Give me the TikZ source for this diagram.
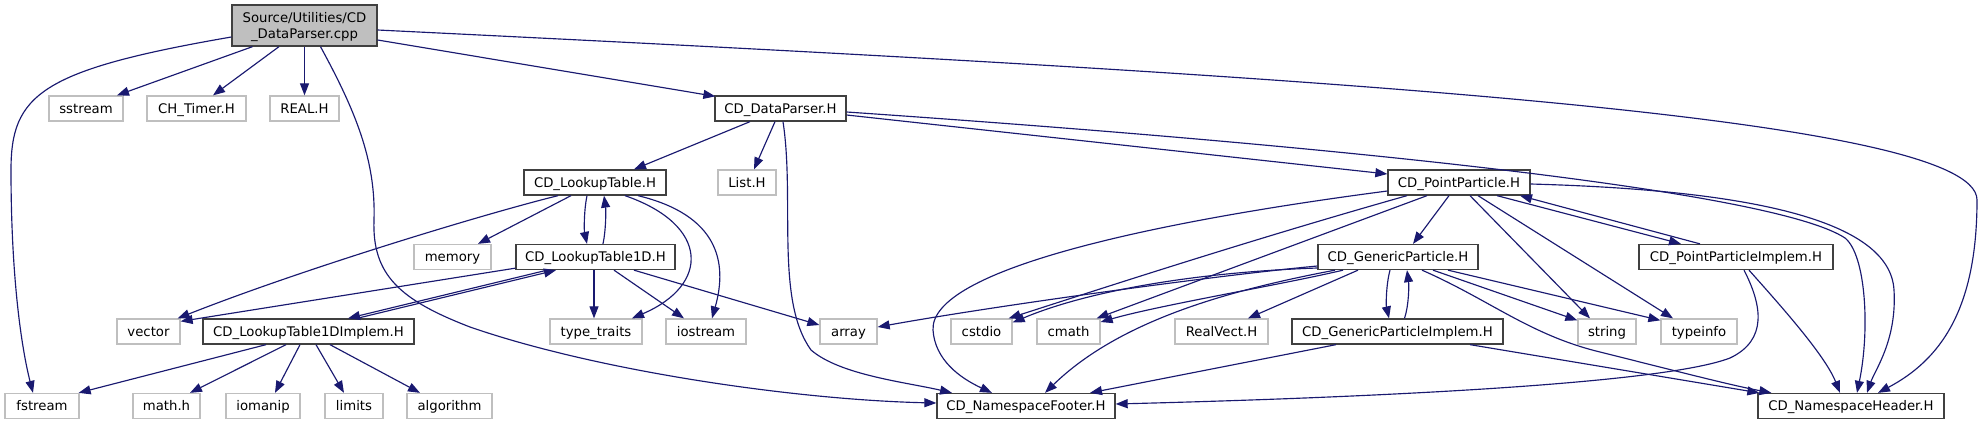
\documentclass[tikz,border=0pt]{standalone}
\usepackage{fontspec}
\setmainfont{DejaVu Sans}
\usetikzlibrary{arrows.meta,calc}
\definecolor{edgecol}{HTML}{191970}
\definecolor{docborder}{HTML}{404040}
\definecolor{sysborder}{HTML}{BFBFBF}
\definecolor{srcfill}{HTML}{BFBFBF}
\begin{document}
\begin{tikzpicture}[x=1bp,y=-1bp,
  font=\fontsize{13.25bp}{15.5bp}\selectfont,
  box/.style={rectangle, inner sep=0pt, minimum height=25bp, line width=1.3bp, fill=white, text=black, text height=9.6bp, text depth=0bp},
  hdr/.style={box, draw=docborder},
  sys/.style={box, draw=sysborder},
  boxw/.style={minimum width=#1bp},
  srcbox/.style={rectangle, inner sep=0pt, fill=srcfill, draw=docborder, line width=1.3bp, minimum width=145bp, minimum height=41bp},
  dep/.style={draw=edgecol, line width=1.15bp, -{Triangle[length=12bp,width=9bp]}}]
\useasboundingbox (0,0) rectangle (1983,425);
\fill[white] (0,0) rectangle (1983,425);

% ---- nodes ----
\node[srcbox] (src) at (304.5,25.5) {\raisebox{-12.5bp}[0pt][0pt]{\begin{tabular}[b]{@{}c@{}}Source/Utilities/CD\\\_DataParser.cpp\end{tabular}}};

\node[sys, boxw=74] (sstream) at (86,108.5) {sstream};
\node[sys, boxw=99] (chtimer) at (196.5,108.5) {CH\_Timer.H};
\node[sys, boxw=69] (real) at (304.5,108.5) {REAL.H};
\node[hdr, boxw=131] (dataparser) at (780.5,108.5) {CD\_DataParser.H};

\node[hdr, boxw=142] (lookup) at (595,182.5) {CD\_LookupTable.H};
\node[sys, boxw=58] (list) at (747,182.5) {List.H};
\node[hdr, boxw=142] (pointp) at (1459,182.5) {CD\_PointParticle.H};

\node[sys, boxw=77] (memory) at (452.5,257) {memory};
\node[hdr, boxw=159] (lookup1d) at (595.5,257) {CD\_LookupTable1D.H};
\node[hdr, boxw=160] (genp) at (1398,257) {CD\_GenericParticle.H};
\node[hdr, boxw=194] (pointimpl) at (1736,257) {CD\_PointParticleImplem.H};

\node[sys, boxw=63] (vector) at (148.5,331.5) {vector};
\node[hdr, boxw=211] (lookup1dimpl) at (308.5,331.5) {CD\_LookupTable1DImplem.H};
\node[sys, boxw=92] (typetraits) at (596,331.5) {type\_traits};
\node[sys, boxw=80] (iostream) at (706,331.5) {iostream};
\node[sys, boxw=57] (array) at (848.5,331.5) {array};
\node[sys, boxw=61] (cstdio) at (981.5,331.5) {cstdio};
\node[sys, boxw=63] (cmath) at (1068.5,331.5) {cmath};
\node[sys, boxw=93] (realvect) at (1221.5,331.5) {RealVect.H};
\node[hdr, boxw=211] (genimpl) at (1397.5,331.5) {CD\_GenericParticleImplem.H};
\node[sys, boxw=58] (string) at (1607,331.5) {string};
\node[sys, boxw=76] (typeinfo) at (1699,331.5) {typeinfo};

\node[sys, boxw=74] (fstream) at (42,406) {fstream};
\node[sys, boxw=67] (mathh) at (166.5,406) {math.h};
\node[sys, boxw=74] (iomanip) at (263,406) {iomanip};
\node[sys, boxw=58] (limits) at (354,406) {limits};
\node[sys, boxw=85] (algorithm) at (449.5,406) {algorithm};
\node[hdr, boxw=178] (nsfooter) at (1026,406) {CD\_NamespaceFooter.H};
\node[hdr, boxw=186] (nsheader) at (1851,406) {CD\_NamespaceHeader.H};

% ---- edges: source file ----
\draw[dep] ($(src.west)+(0,11.5)$) .. controls (40,70) and (11,95) .. (11,170) .. controls (11,280) and (22,350) .. ($(fstream.north)+(-9,0)$);
\draw[dep] ($(src.south)+(-52,0)$) -- ($(sstream.north)+(31,0)$);
\draw[dep] ($(src.south)+(-25.5,0)$) -- ($(chtimer.north)+(16.5,0)$);
\draw[dep] (src.south) -- (real.north);
\draw[dep] ($(src.south)+(16,0)$) .. controls (355,110) and (376,160) .. (374,220) .. controls (372,275) and (400,300) .. (470,327) .. controls (600,372) and (800,400) .. ($(nsfooter.west)+(0,-3)$);
\draw[dep] ($(src.east)+(0,14.5)$) -- ($(dataparser.north west)+(1,1)$);
\draw[dep] ($(src.east)+(0,4.5)$) .. controls (1300,75) and (1977,115) .. (1977,200) .. controls (1977,310) and (1940,360) .. ($(nsheader.north)+(27,0)$);

% ---- CD_DataParser.H ----
\draw[dep] ($(dataparser.south)+(-30.5,0)$) -- ($(lookup.north)+(39,0)$);
\draw[dep] ($(dataparser.south)+(-5.5,0)$) -- ($(list.north)+(7,0)$);
\draw[dep] ($(dataparser.south)+(2.5,0)$) .. controls (795,200) and (775,300) .. (811,350) .. controls (840,375) and (905,382) .. ($(nsfooter.north)+(-74,0)$);
\draw[dep] ($(dataparser.east)+(0,6.5)$) -- ($(pointp.west)+(0,-8.5)$);
\draw[dep] ($(dataparser.east)+(0,3.5)$) .. controls (1400,150) and (1780,195) .. (1845,238) .. controls (1866,255) and (1870,330) .. ($(nsheader.north)+(6,0)$);

% ---- CD_LookupTable.H ----
\draw[dep] ($(lookup.south)+(-37,0)$) .. controls (480,215) and (300,270) .. ($(vector.north east)+(-3,0)$);
\draw[dep] ($(lookup.south)+(-24,0)$) -- ($(memory.north)+(25.5,0)$);
\draw[dep] ($(lookup.south)+(-8,0)$) .. controls (584,210) and (584,230) .. ($(lookup1d.north)+(-8.5,0)$);
\draw[dep] ($(lookup.south)+(30,0)$) .. controls (710,225) and (710,285) .. ($(typetraits.north)+(36,0)$);
\draw[dep] ($(lookup.south)+(43,0)$) .. controls (718,215) and (728,262) .. ($(iostream.north)+(6,0)$);

% ---- CD_LookupTable1D.H ----
\draw[dep] ($(lookup1d.north)+(7.5,0)$) .. controls (606,230) and (606,210) .. ($(lookup.south)+(9,0)$);
\draw[dep] ($(lookup1d.south west)+(0,-2)$) -- ($(vector.north east)+(0,3)$);
\draw[dep] ($(lookup1d.south)+(-48.5,0)$) -- ($(lookup1dimpl.north)+(39.5,0)$);
\draw[dep] ($(lookup1d.south)+(-1.5,0)$) -- ($(typetraits.north)+(-2,0)$);
\draw[dep] ($(lookup1d.south)+(18.5,0)$) -- ($(iostream.north)+(-22,0)$);
\draw[dep] ($(lookup1d.south)+(38.5,0)$) -- ($(array.west)+(0,-6.5)$);

% ---- CD_LookupTable1DImplem.H ----
\draw[dep] ($(lookup1dimpl.north)+(48.5,0)$) -- ($(lookup1d.south)+(-39.5,0)$);
\draw[dep] ($(lookup1dimpl.south)+(-42.5,0)$) -- ($(fstream.north east)+(-1,0)$);
\draw[dep] ($(lookup1dimpl.south)+(-22.5,0)$) -- ($(mathh.north)+(23.5,0)$);
\draw[dep] ($(lookup1dimpl.south)+(-8.5,0)$) -- ($(iomanip.north)+(12,0)$);
\draw[dep] ($(lookup1dimpl.south)+(7.5,0)$) -- ($(limits.north)+(-10,0)$);
\draw[dep] ($(lookup1dimpl.south)+(21.5,0)$) -- ($(algorithm.north)+(-29.5,0)$);

% ---- CD_PointParticle.H ----
\draw[dep] ($(pointp.east)+(0,1.5)$) .. controls (1750,190) and (1890,220) .. (1894,290) .. controls (1897,340) and (1875,370) .. ($(nsheader.north)+(16,0)$);
\draw[dep] ($(pointp.south)+(38,0)$) -- ($(pointimpl.north)+(-55,0)$);
\draw[dep] ($(pointp.south)+(-10,0)$) -- ($(genp.north)+(15,0)$);
\draw[dep] ($(pointp.south)+(11,0)$) -- ($(string.north)+(-17,0)$);
\draw[dep] ($(pointp.south)+(19,0)$) -- ($(typeinfo.north)+(-26,0)$);
\draw[dep] ($(pointp.west)+(0,8.5)$) .. controls (1150,222) and (930,270) .. (933,330) .. controls (935,360) and (960,378) .. ($(nsfooter.north)+(-34,0)$);
\draw[dep] ($(pointp.south)+(-52,0)$) .. controls (1250,240) and (1100,289) .. ($(cstdio.north east)+(-4,0)$);
\draw[dep] ($(pointp.south)+(-32,0)$) -- ($(cmath.north east)+(-4,0)$);

% ---- CD_PointParticleImplem.H ----
\draw[dep] ($(pointimpl.north)+(-36,0)$) -- ($(pointp.south)+(61,0)$);
\draw[dep] ($(pointimpl.south)+(13,0)$) .. controls (1780,305) and (1825,355) .. ($(nsheader.north)+(-11,0)$);
\draw[dep] ($(pointimpl.south)+(8,0)$) .. controls (1762,305) and (1768,340) .. (1730,358) .. controls (1660,385) and (1350,398) .. ($(nsfooter.east)+(0,-2)$);

% ---- CD_GenericParticle.H ----
\draw[dep] ($(genp.west)+(0,9)$) .. controls (1220,275) and (1000,305) .. ($(array.east)+(0,-4.5)$);
\draw[dep] ($(genp.west)+(0,11)$) .. controls (1200,272) and (1090,290) .. ($(cstdio.east)+(0,-9)$);
\draw[dep] ($(genp.south)+(-55,0)$) .. controls (1280,285) and (1160,305) .. ($(cmath.east)+(0,-9.5)$);
\draw[dep] ($(genp.south)+(-63,0)$) .. controls (1230,290) and (1120,320) .. ($(nsfooter.north)+(19,0)$);
\draw[dep] ($(genp.south)+(-40,0)$) -- ($(realvect.north)+(26.5,0)$);
\draw[dep] ($(genp.south)+(-8,0)$) .. controls (1386,285) and (1386,305) .. ($(genimpl.north)+(-8.5,0)$);
\draw[dep] ($(genp.south)+(35,0)$) -- ($(string.north west)+(0,2)$);
\draw[dep] ($(genp.south)+(50,0)$) -- ($(typeinfo.north west)+(0,2)$);
\draw[dep] ($(genp.south)+(24,0)$) .. controls (1490,300) and (1530,335) .. (1600,352) .. controls (1680,372) and (1730,385) .. ($(nsheader.north west)+(14,0)$);

% ---- CD_GenericParticleImplem.H ----
\draw[dep] ($(genimpl.north)+(7,0)$) .. controls (1409,305) and (1409,285) .. ($(genp.south)+(9,0)$);
\draw[dep] ($(genimpl.south)+(-61.5,0)$) -- ($(nsfooter.north)+(64,0)$);
\draw[dep] ($(genimpl.south)+(72.5,0)$) -- ($(nsheader.north west)+(2,0)$);
\end{tikzpicture}
\end{document}
